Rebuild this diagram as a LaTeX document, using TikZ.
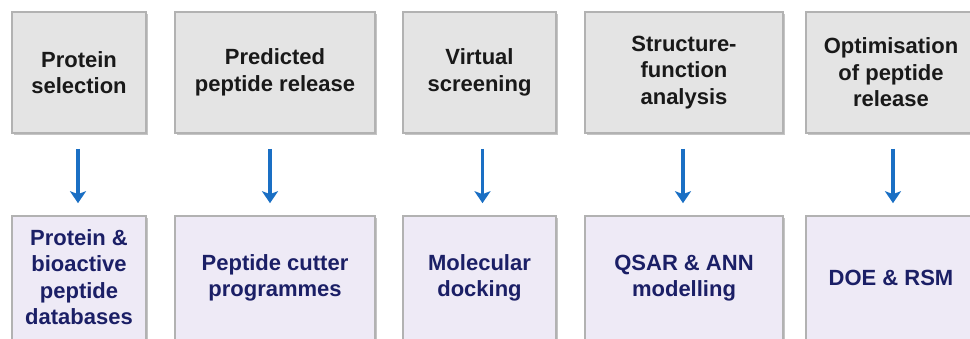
\documentclass[tikz,border=0pt]{standalone}
\usepackage{fontspec}
\setmainfont{Liberation Sans}
\usetikzlibrary{shadows,arrows.meta}
\definecolor{topfill}{HTML}{E4E4E4}
\definecolor{botfill}{HTML}{EEEAF6}
\definecolor{navytext}{HTML}{1B1F66}
\definecolor{arrowblue}{HTML}{1A6FC4}
\tikzset{
  boxfont/.style={font=\bfseries\fontsize{22}{26.5}\selectfont},
  box/.style={rectangle, draw=black!30, line width=1.6pt, align=center,
    boxfont, inner sep=0pt,
    drop shadow={opacity=0.45, shadow xshift=1.8pt, shadow yshift=-2pt}},
  topbox/.style={box, fill=topfill, text=black!90},
  botbox/.style={box, fill=botfill, text=navytext},
  bottext/.style={text=navytext, boxfont, align=center, inner sep=0pt},
  flow/.style={draw=arrowblue, line width=3.2pt, -{Stealth[width=16pt,length=12pt,inset=3pt]}}
}
\begin{document}
\begin{tikzpicture}[x=1pt,y=-1pt]
\useasboundingbox (0,0) rectangle (970,339);
\clip (0,0) rectangle (970,339);
\fill[white] (0,0) rectangle (970,339);
% top row
\node[topbox, minimum width=134pt, minimum height=121pt] (t1) at (79,72.5) {Protein\\selection};
\node[topbox, minimum width=200pt, minimum height=121pt] (t2) at (275,72.5) {Predicted\\peptide release};
\node[topbox, minimum width=153pt, minimum height=121pt] (t3) at (479.5,72.5) {Virtual\\screening};
\node[topbox, minimum width=198pt, minimum height=121pt] (t4) at (684,72.5) {Structure-\\function\\analysis};
\node[topbox, minimum width=170pt, minimum height=121pt] (t5) at (891,72.5) {Optimisation\\of peptide\\release};
% bottom row
\node[botbox, minimum width=134pt, minimum height=132pt] (b1) at (79,282) {};
\node[bottext] (b1t) at (79,277) {Protein \&\\bioactive\\peptide\\databases};
\node[botbox, minimum width=200pt, minimum height=132pt] (b2) at (275,282) {};
\node[bottext] (b2t) at (275,278) {Peptide cutter\\programmes};
\node[botbox, minimum width=153pt, minimum height=132pt] (b3) at (479.5,282) {};
\node[bottext] (b3t) at (479.5,278) {Molecular\\docking};
\node[botbox, minimum width=198pt, minimum height=132pt] (b4) at (684,282) {};
\node[bottext] (b4t) at (684,278) {QSAR \& ANN\\modelling};
\node[botbox, minimum width=170pt, minimum height=132pt] (b5) at (891,282) {};
\node[bottext] (b5t) at (891,278) {DOE \& RSM};
% arrows
\draw[flow] ([xshift=-1pt,yshift=-15pt]t1.south) -- ([xshift=-1pt,yshift=12pt]b1.north);
\draw[flow] ([xshift=-5pt,yshift=-15pt]t2.south) -- ([xshift=-5pt,yshift=12pt]b2.north);
\draw[flow] ([xshift=3pt,yshift=-15pt]t3.south) -- ([xshift=3pt,yshift=12pt]b3.north);
\draw[flow] ([xshift=-1pt,yshift=-15pt]t4.south) -- ([xshift=-1pt,yshift=12pt]b4.north);
\draw[flow] ([xshift=2pt,yshift=-15pt]t5.south) -- ([xshift=2pt,yshift=12pt]b5.north);
\end{tikzpicture}
\end{document}
